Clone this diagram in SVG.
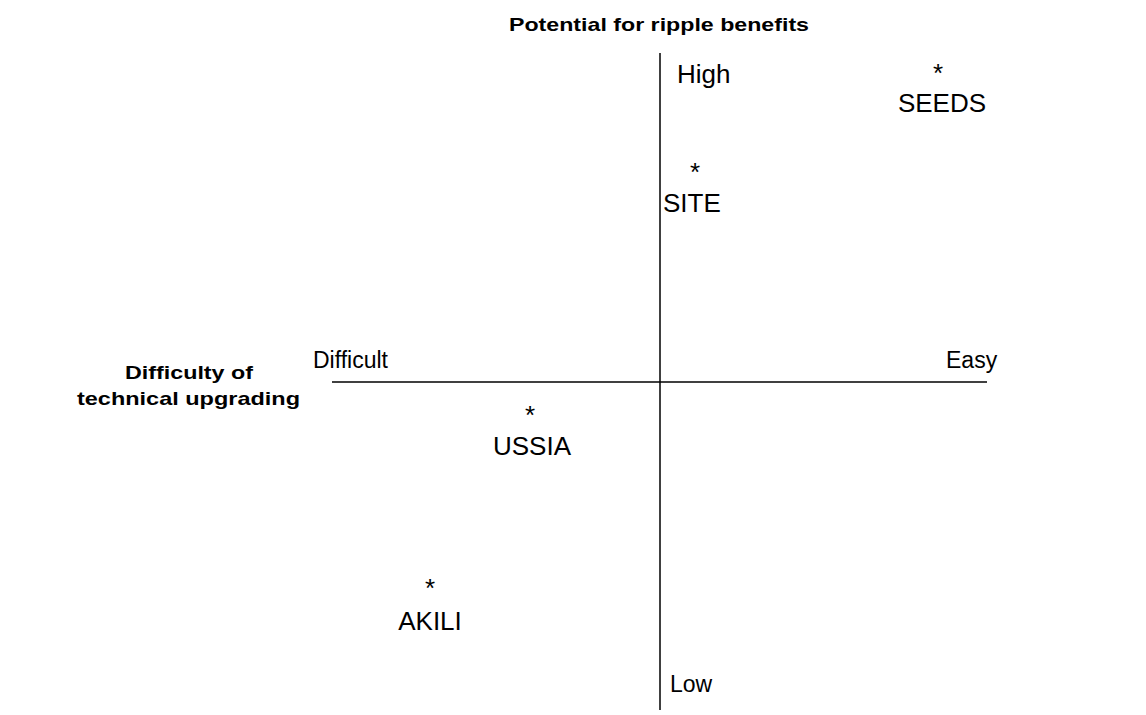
<svg xmlns="http://www.w3.org/2000/svg" width="1146" height="715" viewBox="0 0 1146 715">
<style>
.t{font-family:"Liberation Sans",Arial,sans-serif;fill:#000}
.b{font-weight:bold;font-size:19px}
.l{font-size:26px}
.s{font-size:23px}
.st{font-size:26px}
.ax{stroke:#000;stroke-width:1.5;fill:none}
</style>
<rect width="1146" height="715" fill="#fff"/>
<g id="axes">
<line class="ax" x1="660" y1="53" x2="660" y2="710"/>
<line class="ax" x1="332" y1="382" x2="987" y2="382"/>
</g>
<g id="titles">
<text class="t b" x="509" y="31" textLength="300" lengthAdjust="spacingAndGlyphs">Potential for ripple benefits</text>
<text class="t b" x="125" y="379" textLength="128" lengthAdjust="spacingAndGlyphs">Difficulty of</text>
<text class="t b" x="77" y="405" textLength="223" lengthAdjust="spacingAndGlyphs">technical upgrading</text>
<text class="t l" x="677" y="83">High</text>
<text class="t s" x="670" y="692">Low</text>
<text class="t s" x="313" y="368">Difficult</text>
<text class="t s" x="946" y="368">Easy</text>
</g>
<g id="seeds">
<text class="t st" x="938" y="82" text-anchor="middle">*</text>
<text class="t l" x="942" y="112" text-anchor="middle">SEEDS</text>
</g>
<g id="site">
<text class="t st" x="695" y="181" text-anchor="middle">*</text>
<text class="t l" x="663" y="212">SITE</text>
</g>
<g id="ussia">
<text class="t st" x="530" y="424" text-anchor="middle">*</text>
<text class="t l" x="532" y="455" text-anchor="middle">USSIA</text>
</g>
<g id="akili">
<text class="t st" x="430" y="597" text-anchor="middle">*</text>
<text class="t l" x="430" y="630" text-anchor="middle">AKILI</text>
</g>
</svg>
